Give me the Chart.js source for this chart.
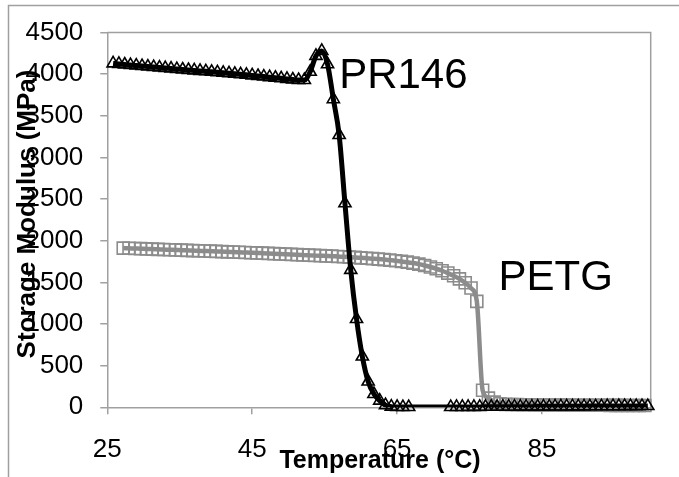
<!DOCTYPE html>
<html>
<head>
<meta charset="utf-8">
<script src="https://cdn.jsdelivr.net/npm/chart.js@4/dist/chart.umd.min.js"></script>
<style>
  html, body { margin: 0; padding: 0; background: #fff; }
  #wrap { width: 679px; height: 477px; position: relative; }
</style>
</head>
<body>
<div id="wrap"><canvas id="c" width="679" height="477"></canvas></div>
<script>
// ---- data ----
const xTickValues = [25, 45, 65, 85];
const yTickValues = [0, 500, 1000, 1500, 2000, 2500, 3000, 3500, 4000, 4500];

const prTemp = [25.8, 26.6, 27.4, 28.2, 29.0, 29.8, 30.6, 31.4, 32.2, 33.0, 33.8, 34.6, 35.4, 36.2, 37.0, 37.8, 38.6, 39.4, 40.2, 41.0,
  41.8, 42.6, 43.4, 44.2, 45.0, 45.8, 46.6, 47.4, 48.2, 49.0, 49.8, 50.6, 51.4, 52.2, 53.0, 53.8, 54.6, 55.4, 56.2, 57.0,
  57.8, 58.6, 59.4, 60.2, 61.0, 61.8, 62.6, 63.4, 64.2, 65.0, 65.8, 66.6,
  72.4, 73.2, 74.0, 74.8, 75.6, 76.4, 77.2, 78.0, 78.8, 79.6, 80.4, 81.2, 82.0, 82.8, 83.6, 84.4, 85.2, 86.0, 86.8, 87.6,
  88.4, 89.2, 90.0, 90.8, 91.6, 92.4, 93.2, 94.0, 94.8, 95.6, 96.4, 97.2, 98.0, 98.8, 99.6];
const prModulus = [4130, 4124, 4117, 4110, 4104, 4098, 4092, 4086, 4080, 4074, 4068, 4062, 4057, 4051, 4046, 4040, 4035, 4029, 4023, 4017,
  4011, 4005, 3999, 3993, 3986, 3979, 3972, 3965, 3958, 3951, 3944, 3937, 3931, 3930, 4030, 4220, 4280, 4120, 3700, 3270,
  2450, 1650, 1060, 610, 310, 160, 80, 25, 8, 4, 3, 3,
  3, 4, 4, 5, 5, 5, 6, 6, 6, 7, 7, 7, 8, 8, 8, 9, 9, 9, 10, 10,
  10, 11, 11, 11, 12, 12, 12, 13, 13, 13, 14, 14, 14, 15, 15];

const petgTemp = [27.2, 28.0, 28.8, 29.6, 30.4, 31.2, 32.0, 32.8, 33.6, 34.4, 35.2, 36.0, 36.8, 37.6, 38.4, 39.2, 40.0, 40.8, 41.6, 42.4,
  43.2, 44.0, 44.8, 45.6, 46.4, 47.2, 48.0, 48.8, 49.6, 50.4, 51.2, 52.0, 52.8, 53.6, 54.4, 55.2, 56.0, 56.8, 57.6, 58.4,
  59.2, 60.0, 60.8, 61.6, 62.4, 63.2, 64.0, 64.8, 65.6, 66.4, 67.2, 68.0, 68.8, 69.6, 70.4, 71.2, 72.0, 72.8, 73.6, 74.4,
  75.2, 76.0, 76.8, 77.6, 78.4, 79.2, 80.0, 80.8, 81.6, 82.4, 83.2, 84.0, 84.8, 85.6, 86.4, 87.2, 88.0, 88.8, 89.6, 90.4,
  91.2, 92.0, 92.8, 93.6, 94.4, 95.2, 96.0, 96.8, 97.6, 98.4, 99.2];
const petgModulus = [1912, 1910, 1907, 1905, 1902, 1900, 1897, 1895, 1892, 1890, 1887, 1885, 1882, 1880, 1877, 1875, 1872, 1870, 1867, 1865,
  1862, 1859, 1856, 1854, 1851, 1848, 1845, 1842, 1839, 1836, 1833, 1830, 1827, 1824, 1821, 1818, 1815, 1811, 1808, 1804,
  1800, 1795, 1790, 1785, 1780, 1774, 1767, 1760, 1752, 1743, 1732, 1719, 1703, 1685, 1664, 1640, 1612, 1580, 1542, 1496,
  1432, 1272, 205, 110, 62, 42, 35, 33, 32, 30, 30, 29, 28, 28, 27, 27, 26, 26, 25, 25,
  25, 24, 24, 24, 23, 23, 23, 22, 22, 22, 22];

const seriesNames = ['PR146', 'PETG'];
const xTitle = 'Temperature (°C)';
const yTitle = 'Storage Modulus (MPa)';

// ---- build ----
const toPts = (xs, ys) => xs.map((x, i) => ({ x: x, y: ys[i] }));
const FONT = "'Liberation Sans', Arial, sans-serif";
const AXIS = '#a0a0a0';
const GRAY = '#8c8c8c';

const deco = {
  id: 'deco',
  beforeDraw(chart) {
    const c = chart.ctx;
    c.save();
    c.fillStyle = '#fff';
    c.fillRect(0, 0, chart.width, chart.height);
    c.strokeStyle = AXIS;
    c.lineWidth = 1.5;
    c.beginPath();
    c.moveTo(8.5, chart.height);
    c.lineTo(8.5, 5.5);
    c.lineTo(chart.width, 5.5);
    c.stroke();
    c.restore();
  },
  beforeDatasetsDraw(chart) {
    const a = chart.chartArea, c = chart.ctx;
    c.save();
    c.strokeStyle = AXIS;
    c.lineWidth = 1.5;
    c.beginPath();
    c.moveTo(a.left, a.top);
    c.lineTo(a.right, a.top);
    c.lineTo(a.right, a.bottom);
    c.stroke();
    c.restore();
  },
  afterDraw(chart) {
    const c = chart.ctx, xs = chart.scales.x, ys = chart.scales.y;
    c.save();
    c.fillStyle = '#000';
    c.font = 'bold 25px ' + FONT;
    c.textAlign = 'center';
    c.textBaseline = 'middle';
    c.fillText(xTitle, 380, 461);
    c.font = 'bold 26px ' + FONT;
    c.translate(35, 214);
    c.rotate(-Math.PI / 2);
    c.textBaseline = 'alphabetic';
    c.fillText(yTitle, 0, 0);
    c.restore();
    c.save();
    c.fillStyle = '#000';
    c.font = '42px ' + FONT;
    c.textAlign = 'left';
    c.textBaseline = 'middle';
    chart.options.plugins.deco.labels.forEach(l => {
      c.fillText(l.text, xs.getPixelForValue(l.x), ys.getPixelForValue(l.y));
    });
    c.restore();
  }
};

const tickFont = { family: FONT, size: 26 };

new Chart(document.getElementById('c'), {
  type: 'line',
  data: {
    datasets: [
      { label: seriesNames[0] + ' markers', data: toPts(prTemp, prModulus), showLine: false,
        pointStyle: 'triangle', pointRadius: 7, pointBorderWidth: 1.6,
        pointBorderColor: '#000', pointBackgroundColor: 'rgba(0,0,0,0)', clip: false },
      { label: seriesNames[0], data: toPts(prTemp, prModulus), borderColor: '#000', borderWidth: 5,
        pointRadius: 0, cubicInterpolationMode: 'monotone', clip: 0 },
      { label: seriesNames[1] + ' markers', data: toPts(petgTemp, petgModulus), showLine: false,
        pointStyle: 'rect', pointRadius: 8.5, pointBorderWidth: 1.6,
        pointBorderColor: GRAY, pointBackgroundColor: 'rgba(0,0,0,0)', clip: false },
      { label: seriesNames[1], data: toPts(petgTemp, petgModulus), borderColor: GRAY, borderWidth: 4.5,
        pointRadius: 0, cubicInterpolationMode: 'monotone', clip: 0 }
    ]
  },
  options: {
    responsive: false,
    animation: false,
    devicePixelRatio: 1,
    layout: { padding: { left: 0, top: 21.7, right: 28.3, bottom: 0 } },
    plugins: {
      legend: { display: false },
      tooltip: { enabled: false },
      deco: { labels: [ { text: seriesNames[0], x: 57.0, y: 3975 }, { text: seriesNames[1], x: 79.0, y: 1545 } ] }
    },
    scales: {
      x: {
        type: 'linear', min: 25, max: 100,
        afterBuildTicks: s => { s.ticks = xTickValues.map(v => ({ value: v })); },
        afterFit: s => { s.height = 69.7; },
        grid: { display: true, drawOnChartArea: false, drawTicks: true, tickLength: 7, color: AXIS, lineWidth: 1.5 },
        border: { display: true, color: AXIS, width: 1.5 },
        ticks: { font: tickFont, color: '#000', padding: 20, maxRotation: 0, autoSkip: false,
                 callback: v => String(v) }
      },
      y: {
        type: 'linear', min: 0, max: 4500,
        afterBuildTicks: s => { s.ticks = yTickValues.map(v => ({ value: v })); },
        afterFit: s => { s.width = 107.3; },
        grid: { display: true, drawOnChartArea: false, drawTicks: true, tickLength: 7, color: AXIS, lineWidth: 1.5 },
        border: { display: true, color: AXIS, width: 1.5 },
        ticks: { font: tickFont, color: '#000', padding: 17, autoSkip: false,
                 callback: v => String(v) }
      }
    }
  },
  plugins: [deco]
});
</script>
</body>
</html>
